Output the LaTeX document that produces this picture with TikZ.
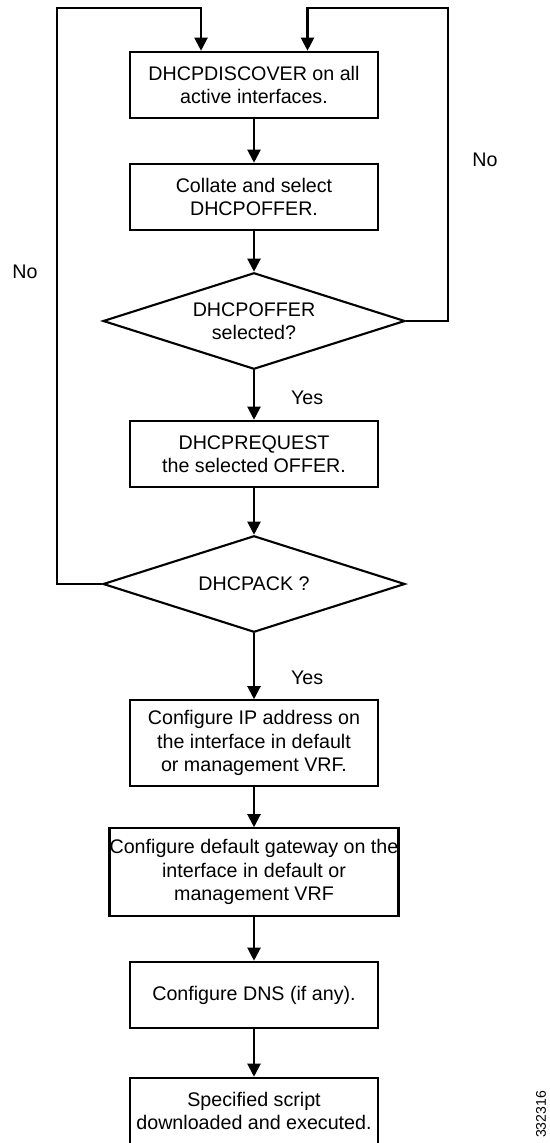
\documentclass[tikz,border=0pt]{standalone}
\usepackage{fontspec}
\setmainfont{Liberation Sans}
\usetikzlibrary{arrows.meta,shapes.geometric}

\begin{document}
\begin{tikzpicture}[>={Triangle[length=7.4pt,width=7.4pt]},x=0.02cm,y=-0.02cm,line width=1.2pt]
\tikzset{StepStyle/.style = {draw,rectangle,inner sep=0pt,
                             minimum width=4.96cm,minimum height=1.33cm,
                             align=center,font=\fontsize{11.2}{13.3}\selectfont},
         TestStyle/.style = {draw,diamond,inner sep=0pt,shape aspect=3,
                             minimum width=6.04cm,minimum height=1.93cm,
                             align=center,font=\fontsize{11.2}{13.3}\selectfont},
         TagStyle/.style  = {inner sep=0pt,font=\fontsize{11.2}{13.3}\selectfont}}
\useasboundingbox (0,0) rectangle (550,1143);
\node[StepStyle] (discover) at (254,85)  {DHCPDISCOVER on all\\active interfaces.};
\node[StepStyle] (collate)  at (254,197) {Collate and select\\DHCPOFFER.};
\node[TestStyle] (offerq)   at (254,321) {DHCPOFFER\\selected?};
\node[StepStyle] (request)  at (254,454) {DHCPREQUEST\\the selected OFFER.};
\node[TestStyle] (ackq)     at (254,584) {DHCPACK ?};
\node[StepStyle,minimum height=1.71cm] (ipaddr) at (254,743)
  {Configure IP address on\\the interface in default\\or management VRF.};
\node[StepStyle,minimum width=5.78cm,minimum height=1.75cm] (gateway) at (254,872)
  {Configure default gateway on the\\interface in default or\\management VRF};
\node[StepStyle] (dns)      at (254,995) {Configure DNS (if any).};
\node[StepStyle] (script)   at (254,1111) {Specified script\\downloaded and executed.};
\draw[->] (discover) -- (collate);
\draw[->] (collate) -- (offerq);
\draw[->] (offerq) -- (request);
\draw[->] (request) -- (ackq);
\draw[->] (ackq) -- (ipaddr);
\draw[->] (ipaddr) -- (gateway);
\draw[->] (gateway) -- (dns);
\draw[->] (dns) -- (script);
% the two "No" loops back to the top
\coordinate (leftturn)  at (57,8);
\coordinate (rightturn) at (448,8);
\draw[->] (ackq.west) -| (leftturn) -| ([xshift=-1.06cm]discover.north);
\draw[->] (offerq.east) -| (rightturn) -| ([xshift=1.07cm]discover.north);
\node[TagStyle,anchor=west] (yesoffer) at (290,398) {Yes};
\node[TagStyle,anchor=west] (yesack)   at (290,678) {Yes};
\node[TagStyle] (noack)   at (25,272)  {No};
\node[TagStyle] (nooffer) at (485,160) {No};
\node[inner sep=0pt,rotate=90,anchor=east,font=\fontsize{8}{9}\selectfont] (figid) at (541,1090) {332316};
\end{tikzpicture}
\end{document}
